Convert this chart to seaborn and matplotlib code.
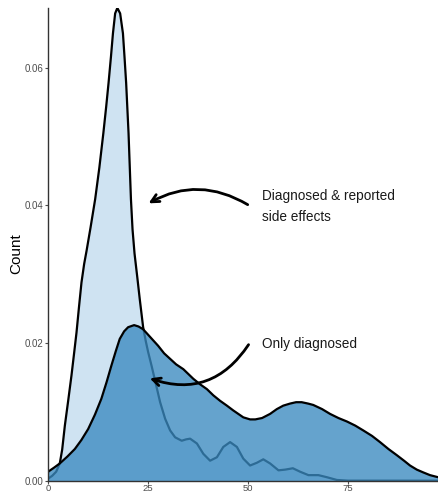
import numpy as np
import pandas as pd
import matplotlib
matplotlib.use("Agg")
import matplotlib.pyplot as plt
import seaborn as sns

# DATA (density curves)
side_x = [0, 1, 2, 2.9, 3.5, 4.17, 5, 5.83, 6.5, 7.08, 7.7, 8.33, 9, 9.6, 10.6, 11.75,
          12.8, 13.8, 14.5, 15.1, 15.7, 16.2, 16.75, 17.3, 18, 18.7, 19.1, 19.5, 20.1,
          20.7, 21.1, 21.6, 22.3, 22.9, 23.75, 24.4, 25, 25.9, 26.75, 28, 29.25, 30.5,
          31.75, 33.4, 34.5, 35.5, 37.2, 38.8, 40.5, 42.2, 43.8, 45.5, 47.2, 48.8,
          50.5, 52.2, 53.8, 55.5, 57.6, 59.25, 61.2, 63, 65.1, 67.6, 69.7, 72.2, 75,
          97.5]
side_y = [0.0003, 0.0007, 0.0013, 0.0025, 0.0045, 0.0080, 0.0116, 0.0153, 0.0186,
          0.0215, 0.0252, 0.0288, 0.0315, 0.0334, 0.0368, 0.0409, 0.0455, 0.0505,
          0.0543, 0.0578, 0.0616, 0.0650, 0.0679, 0.0687, 0.0679, 0.0650, 0.0615,
          0.0578, 0.0505, 0.0409, 0.0365, 0.0330, 0.0295, 0.0264, 0.0223, 0.0203,
          0.0187, 0.0166, 0.0145, 0.0114, 0.0090, 0.0073, 0.0063, 0.0058, 0.0060,
          0.0061, 0.0054, 0.0039, 0.0029, 0.0034, 0.0049, 0.0056, 0.0049, 0.0032,
          0.0022, 0.0026, 0.0031, 0.0025, 0.0015, 0.0016, 0.0018, 0.0013, 0.0008,
          0.0008, 0.0005, 0.0001, 0.0, 0.0]

diag_x = [0, 1.5, 2.9, 4.8, 6.67, 8.3, 10, 11.7, 13.3, 14.6, 15.8, 16.9, 17.9, 19, 20,
          21.5, 22.6, 23.75, 25, 26.25, 27.5, 29, 30.5, 32, 33.8, 36.3, 38, 39.7, 41.3,
          43, 44.7, 46.3, 48.8, 50.5, 51.8, 53.5, 55.5, 57.2, 58.8, 60.5, 62, 63.4, 65,
          66.3, 68.5, 70.5, 72.6, 74.7, 76.8, 78.8, 81, 83, 85.1, 87.2, 89, 90.5, 92.2,
          93.8, 95.5, 97.5]
diag_y = [0.0013, 0.0019, 0.0025, 0.0035, 0.0046, 0.0059, 0.0075, 0.0096, 0.0119,
          0.0143, 0.0167, 0.0188, 0.0206, 0.0217, 0.0223, 0.0226, 0.0224, 0.0220,
          0.0212, 0.0204, 0.0196, 0.0185, 0.0177, 0.0169, 0.0162, 0.0148, 0.0140,
          0.0133, 0.0124, 0.0116, 0.0109, 0.0102, 0.0092, 0.0089, 0.0089, 0.0091,
          0.0097, 0.0104, 0.0109, 0.0112, 0.0114, 0.0114, 0.0112, 0.0110, 0.0104,
          0.0097, 0.0091, 0.0086, 0.0080, 0.0073, 0.0065, 0.0056, 0.0046, 0.0037,
          0.0029, 0.0022, 0.0016, 0.0012, 0.0008, 0.0005]

x_ticks = [0, 25, 50, 75]
y_ticks = [0.00, 0.02, 0.04, 0.06]
y_tick_labels = ["0.00", "0.02", "0.04", "0.06"]

side = pd.DataFrame({"x": side_x, "y": side_y})
diag = pd.DataFrame({"x": diag_x, "y": diag_y})

sns.set_theme(style="ticks")
plt.rcParams["font.family"] = ["Liberation Sans", "DejaVu Sans"]

fig, ax = plt.subplots(figsize=(4.38, 4.95), dpi=100)
fig.subplots_adjust(left=0.11, right=1.0, bottom=0.029, top=0.984)

# side effects (back)
ax.fill_between(side["x"], side["y"], color="#cfe3f2", lw=0, zorder=1)
sns.lineplot(data=side, x="x", y="y", ax=ax, color="black", lw=1.6, sort=False,
             zorder=2)

# only diagnosed (front, semi-transparent so the back outline shows through)
ax.fill_between(diag["x"], diag["y"], color="#3a8ac0", alpha=0.78, lw=0, zorder=3)
sns.lineplot(data=diag, x="x", y="y", ax=ax, color="black", lw=1.6, sort=False,
             zorder=4)

ax.set_xlim(0, 97.5)
ax.set_ylim(0, 0.0687)
ax.set_xticks(x_ticks)
ax.set_yticks(y_ticks)
ax.set_yticklabels(y_tick_labels)
ax.tick_params(labelsize=7, colors="#4d4d4d", length=2.5, width=0.8, pad=1)
ax.tick_params(axis="x", labelsize=6.8, pad=0)
ax.set_xlabel("")
ax.set_ylabel("Count", fontsize=11, color="black")
ax.yaxis.set_label_coords(-0.065, 0.48)
sns.despine(ax=ax)
for s in ["left", "bottom"]:
    ax.spines[s].set_color("#333333")
    ax.spines[s].set_linewidth(1.0)
    ax.spines[s].set_zorder(6)

# annotations
ax.text(53.5, 0.0398, "Diagnosed & reported\nside effects", fontsize=9.8,
        color="#1a1a1a", va="center", ha="left", linespacing=1.63)
ax.text(53.5, 0.0198, "Only diagnosed", fontsize=9.8, color="#1a1a1a",
        va="center", ha="left")

ax.annotate("", xy=(24.5, 0.0401), xytext=(50.5, 0.0399),
            arrowprops=dict(arrowstyle="->", lw=2, color="black",
                            connectionstyle="arc3,rad=0.3", mutation_scale=14),
            zorder=7)
ax.annotate("", xy=(24.75, 0.0150), xytext=(50.5, 0.0201),
            arrowprops=dict(arrowstyle="->", lw=2, color="black",
                            connectionstyle="arc3,rad=-0.4", mutation_scale=14),
            zorder=7)

plt.savefig("out.png", dpi=100)
